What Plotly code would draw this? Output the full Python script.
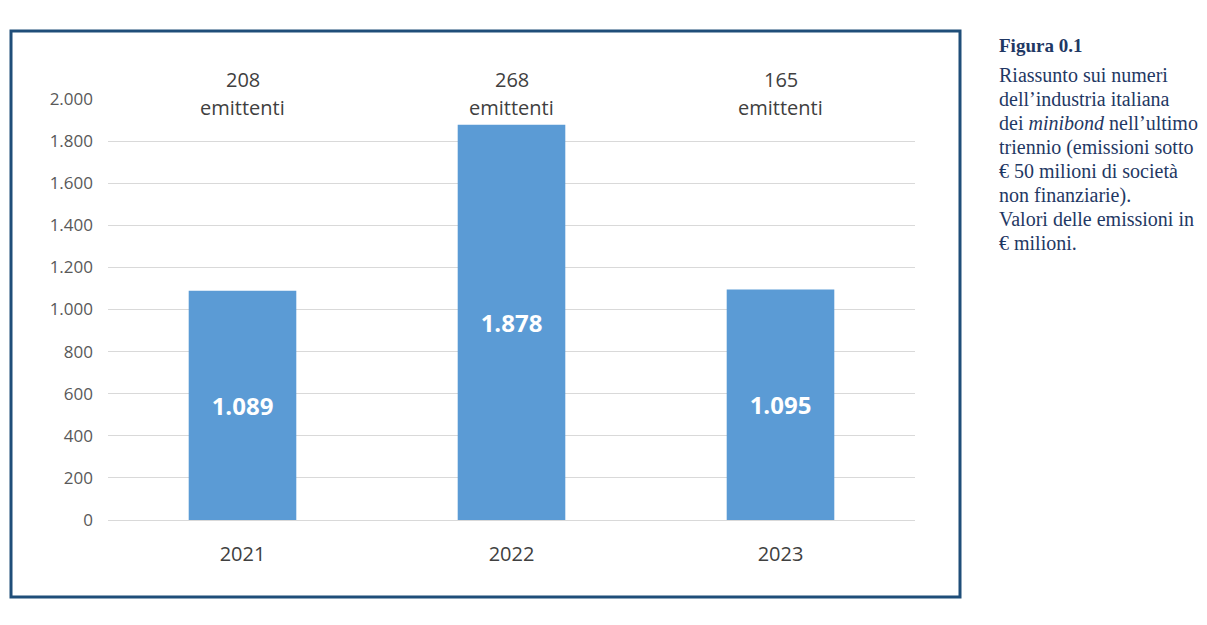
import plotly.graph_objects as go

years = ["2021", "2022", "2023"]
emissioni = [1089, 1878, 1095]
emittenti = [208, 268, 165]
value_labels = ["1.089", "1.878", "1.095"]
ytick_vals = [0, 200, 400, 600, 800, 1000, 1200, 1400, 1600, 1800, 2000]
ytick_text = ["0", "200", "400", "600", "800", "1.000", "1.200", "1.400", "1.600", "1.800", "2.000"]
caption_title = "Figura 0.1"
caption_lines = [
    "Riassunto sui numeri",
    "dell’industria italiana",
    "dei <i>minibond</i> nell’ultimo",
    "triennio (emissioni sotto",
    "€ 50 milioni di società",
    "non finanziarie).",
    "Valori delle emissioni in",
    "€ milioni.",
]

OFF = 8  # page body margin
W, H = 1207 - OFF, 625 - OFF
L, R, T, B = 108 - OFF, 915 - OFF, 99 - OFF, 520 - OFF
pw, ph = R - L, B - T

def px_x(x):
    return (x - OFF - L) / pw

def px_y(y):
    return (B - (y - OFF)) / ph

fig = go.Figure()
fig.add_trace(go.Bar(
    x=years, y=emissioni, width=0.4,
    marker=dict(color="#5b9bd5", line=dict(width=0)),
    text=value_labels, textposition="inside", insidetextanchor="middle",
    textfont=dict(family="Open Sans", size=24, color="white", weight="bold"),
    textangle=0, hoverinfo="skip",
))

annotations = []
for i, n in enumerate(emittenti):
    annotations.append(dict(
        x=i, xref="x", y=px_y(79), yref="paper",
        text=f"{n}", showarrow=False,
        font=dict(family="Open Sans", size=20, color="#404040"),
        xanchor="center", yanchor="middle",
    ))
    annotations.append(dict(
        x=i, xref="x", y=px_y(108), yref="paper",
        text="emittenti", showarrow=False,
        font=dict(family="Open Sans", size=20, color="#404040"),
        xanchor="center", yanchor="middle",
    ))

serif = "Liberation Serif"
cap_color = "#1f3864"
annotations.append(dict(
    x=px_x(997), xref="paper", y=px_y(45), yref="paper",
    text=f"<b>{caption_title}</b>", showarrow=False,
    font=dict(family=serif, size=19, color=cap_color),
    xanchor="left", yanchor="middle",
))
for i, line in enumerate(caption_lines):
    annotations.append(dict(
        x=px_x(997), xref="paper", y=px_y(75 + 24 * i), yref="paper",
        text=line, showarrow=False,
        font=dict(family=serif, size=20, color=cap_color),
        xanchor="left", yanchor="middle",
    ))

fig.update_layout(
    width=W, height=H,
    margin=dict(l=L, r=W - R, t=T, b=H - B),
    paper_bgcolor="white", plot_bgcolor="white",
    showlegend=False,
    xaxis=dict(
        type="category", range=[-0.5, 2.5], showgrid=False, showline=False, ticks="",
        tickfont=dict(family="Open Sans", size=20, color="#404040"),
        ticklabelstandoff=20,
    ),
    yaxis=dict(
        range=[0, 2000], tickvals=ytick_vals, ticktext=ytick_text,
        showgrid=True, gridcolor="#d9d9d9", gridwidth=1,
        zeroline=True, zerolinecolor="#d9d9d9", zerolinewidth=1,
        showline=False, ticks="", ticklen=0,
        tickfont=dict(family="Open Sans", size=17, color="#595959"),
        ticklabelstandoff=14,
    ),
    annotations=annotations,
    shapes=[dict(
        type="rect", xref="paper", yref="paper",
        x0=px_x(11), x1=px_x(960), y0=px_y(597), y1=px_y(31),
        line=dict(color="#1f4e79", width=3), fillcolor="rgba(0,0,0,0)",
        layer="above",
    )],
)
fig.update_xaxes(automargin=False)
fig.update_yaxes(automargin=False)

fig.write_html("out.html")
